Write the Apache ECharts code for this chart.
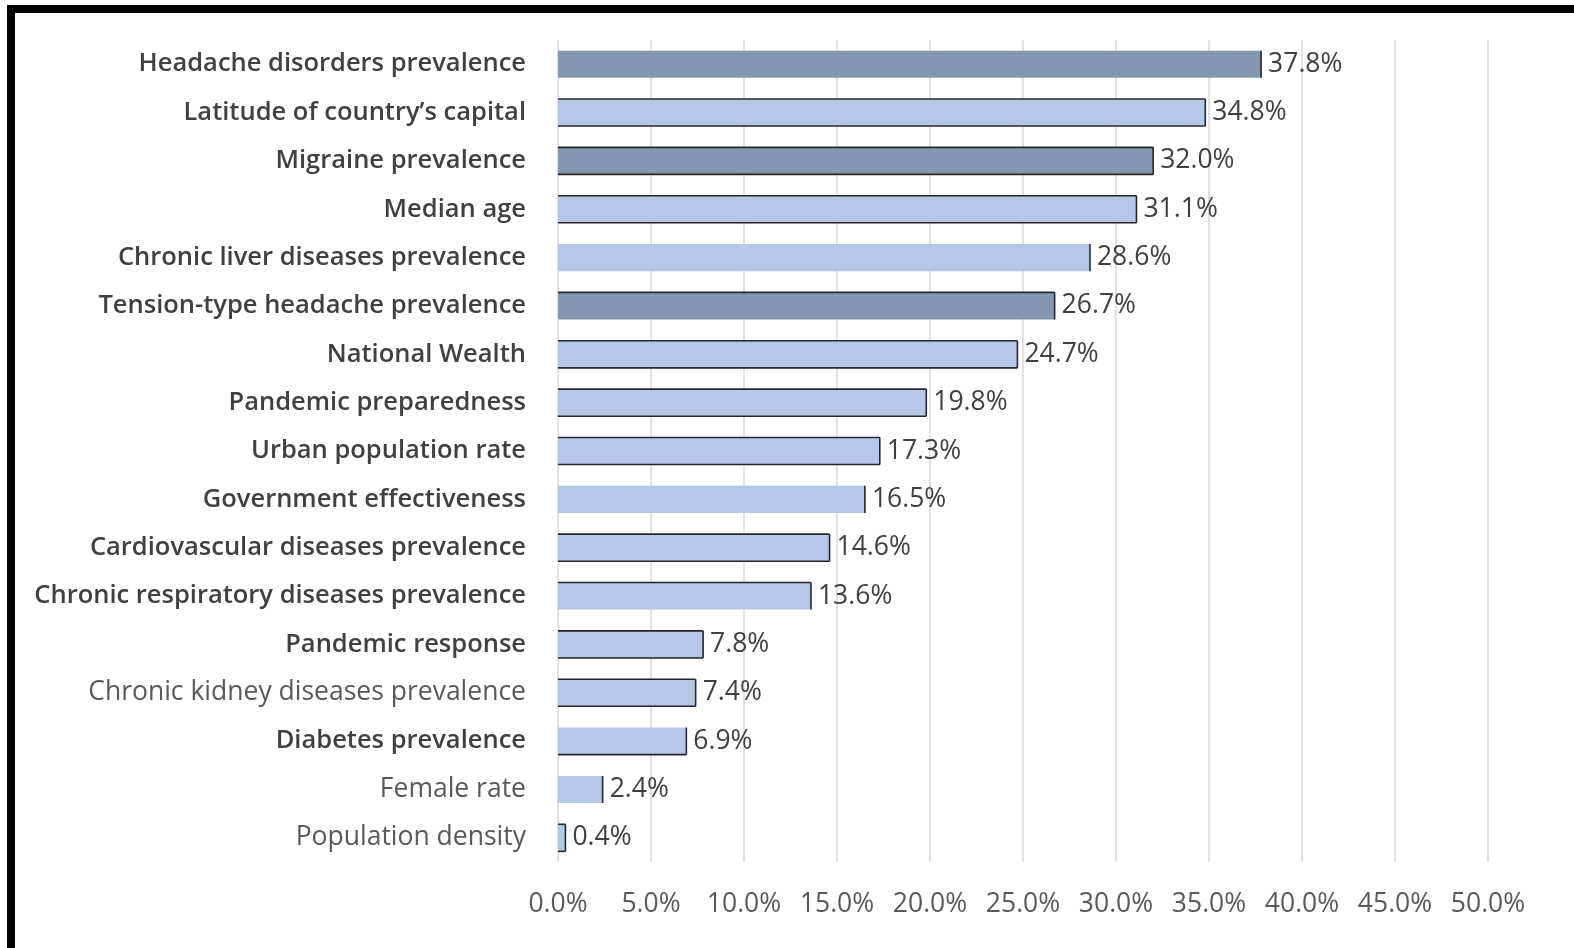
<!DOCTYPE html>
<html>
<head>
<meta charset="utf-8">
<script src="https://cdn.jsdelivr.net/npm/echarts@6/dist/echarts.min.js"></script>
<style>
  html, body { margin: 0; padding: 0; background: #fff; }
  #chart { width: 1574px; height: 948px; }
</style>
</head>
<body>
<div id="chart"></div>
<script>
// ---- data ----
const categories = [
  'Headache disorders prevalence',
  'Latitude of country\u2019s capital',
  'Migraine prevalence',
  'Median age',
  'Chronic liver diseases prevalence',
  'Tension-type headache prevalence',
  'National Wealth',
  'Pandemic preparedness',
  'Urban population rate',
  'Government effectiveness',
  'Cardiovascular diseases prevalence',
  'Chronic respiratory diseases prevalence',
  'Pandemic response',
  'Chronic kidney diseases prevalence',
  'Diabetes prevalence',
  'Female rate',
  'Population density'
];
const values = [37.8, 34.8, 32.0, 31.1, 28.6, 26.7, 24.7, 19.8, 17.3, 16.5, 14.6, 13.6, 7.8, 7.4, 6.9, 2.4, 0.4];
const xTicks = [0, 5, 10, 15, 20, 25, 30, 35, 40, 45, 50];

// ---- styling ----
const DARK = '#8497B0', LIGHT = '#B4C7E7';
const darkBars = new Set(['Headache disorders prevalence', 'Migraine prevalence', 'Tension-type headache prevalence']);
const normalWeightLabels = new Set(['Chronic kidney diseases prevalence', 'Female rate', 'Population density']);
// which edges of each bar have an outline (t = top, b = bottom, r = right)
const edgeStyle = ['r', 'tbr', 'tbr', 'tbr', 'r', 'tr', 'tbr', 'tbr', 'tbr', 'r', 'tbr', 'tr', 'tbr', 'tbr', 'br', 'r', 'tbr'];
const BAR_RATIO = 0.56;
const FONT = '"Open Sans"';

const chart = echarts.init(document.getElementById('chart'), null, { renderer: 'canvas' });

const option = {
  backgroundColor: '#ffffff',
  animation: false,
  graphic: [
    { type: 'rect', shape: { x: 7, y: 5, width: 1574, height: 8 }, style: { fill: '#000' } },
    { type: 'rect', shape: { x: 7, y: 5, width: 8, height: 948 }, style: { fill: '#000' } }
  ],
  grid: { left: 558, right: 86, top: 40, bottom: 86, containLabel: false },
  xAxis: {
    type: 'value',
    min: xTicks[0],
    max: xTicks[xTicks.length - 1],
    interval: xTicks[1] - xTicks[0],
    axisLine: { show: false },
    axisTick: { show: false },
    splitLine: { show: true, lineStyle: { color: '#D9D9D9', width: 1.5 } },
    axisLabel: {
      margin: 29,
      color: '#595959',
      fontFamily: FONT,
      fontSize: 26.5,
      formatter: v => v.toFixed(1) + '%'
    }
  },
  yAxis: {
    type: 'category',
    data: categories,
    inverse: true,
    axisLine: { show: false },
    axisTick: { show: false },
    axisLabel: {
      margin: 32,
      fontFamily: FONT,
      fontSize: 24,
      formatter: v => normalWeightLabels.has(v) ? '{n|' + v + '}' : '{b|' + v + '}',
      rich: {
        b: { fontFamily: FONT, fontSize: 25.5, fontWeight: 600, color: '#404040' },
        n: { fontFamily: FONT, fontSize: 26.5, fontWeight: 'normal', color: '#595959' }
      }
    }
  },
  series: [
    {
      type: 'bar',
      barWidth: (BAR_RATIO * 100) + '%',
      data: values.map((v, i) => ({
        value: v,
        itemStyle: { color: darkBars.has(categories[i]) ? DARK : LIGHT }
      })),
      label: {
        show: true,
        position: 'right',
        distance: 7,
        color: '#404040',
        fontFamily: FONT,
        fontSize: 26.5,
        formatter: p => p.value.toFixed(1) + '%'
      },
      z: 2
    },
    {
      type: 'custom',
      z: 3,
      silent: true,
      data: values.map((v, i) => [v, i]),
      encode: { x: 0, y: 1 },
      renderItem: function (params, api) {
        const idx = params.dataIndex;
        const v = api.value(0);
        const c = api.value(1);
        const p0 = api.coord([0, c]);
        const p1 = api.coord([v, c]);
        const h = api.size([0, 1])[1] * BAR_RATIO;
        const y0 = p0[1] - h / 2, y1 = p0[1] + h / 2;
        const x0 = p0[0], x1 = p1[0];
        const es = edgeStyle[idx] || '';
        const st = { stroke: '#262626', lineWidth: 1.6, fill: null };
        const children = [];
        if (es.includes('t')) children.push({ type: 'line', shape: { x1: x0, y1: y0, x2: x1, y2: y0 }, style: st });
        if (es.includes('b')) children.push({ type: 'line', shape: { x1: x0, y1: y1, x2: x1, y2: y1 }, style: st });
        if (es.includes('r')) children.push({ type: 'line', shape: { x1: x1, y1: y0, x2: x1, y2: y1 }, style: st });
        return { type: 'group', children: children };
      }
    }
  ]
};
chart.setOption(option);
</script>
</body>
</html>
